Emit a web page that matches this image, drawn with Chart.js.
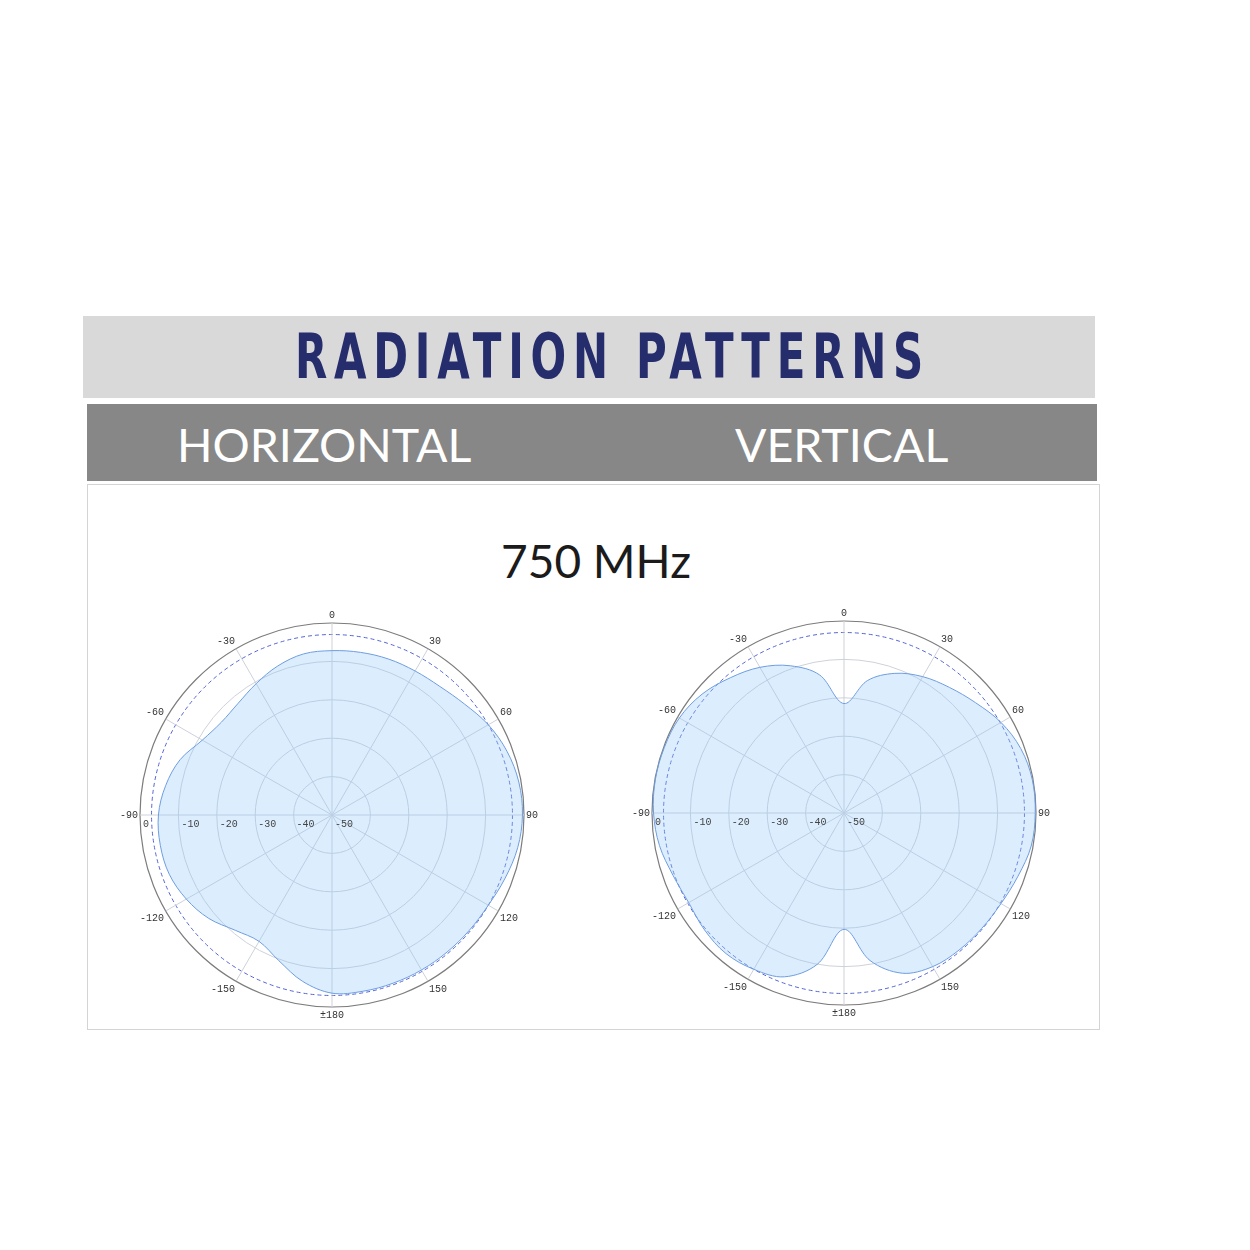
<!DOCTYPE html>
<html>
<head>
<meta charset="utf-8">
<script src="https://cdn.jsdelivr.net/npm/chart.js@4.4.1/dist/chart.umd.min.js"></script>
<style>
  html, body { margin: 0; padding: 0; background: #fff; }
  body { width: 1250px; height: 1250px; position: relative; overflow: hidden; }
  .band1 { position: absolute; left: 83px; top: 316px; width: 1012px; height: 82px; background: #d9d9d9; }
  .title { position: absolute; left: 295px; top: 318px; white-space: nowrap; transform-origin: 0 0;
           font-family: "Liberation Sans Narrow", "DejaVu Sans Condensed", sans-serif; font-weight: bold;
           font-size: 62px; line-height: 78px; letter-spacing: 9px; color: #262d6c; }
  .band2 { position: absolute; left: 87px; top: 404px; width: 1010px; height: 77px; background: #878787; }
  .sub { position: absolute; top: 414px; font-family: Lato, sans-serif; font-size: 46.5px; line-height: 60px; color: #fff; }
  .box { position: absolute; left: 87px; top: 484px; width: 1011px; height: 544px; border: 1px solid #d4d4d4; }
  .freq { position: absolute; left: 0; width: 1192px; top: 531px; text-align: center;
          font-family: Lato, sans-serif; font-size: 46px; line-height: 60px; color: #1b1b1b; }
  .chartbox { position: absolute; width: 424px; height: 424px; }
</style>
</head>
<body>
<div class="band1"></div>
<div class="title" id="title">RADIATION PATTERNS</div>
<div class="band2"></div>
<div class="sub" style="left:177px">HORIZONTAL</div>
<div class="sub" style="left:735px">VERTICAL</div>
<div class="box"></div>
<div class="freq">750 MHz</div>
<div class="chartbox" style="left:117px; top:603px"><canvas id="hChart"></canvas></div>
<div class="chartbox" style="left:629px; top:601px"><canvas id="vChart"></canvas></div>
<script>
// angles in degrees, clockwise from top
const angles = [0, 10, 20, 30, 40, 50, 60, 70, 80, 90, 100, 110, 120, 130, 140, 150, 160, 170, 180,
  -170, -160, -150, -140, -130, -120, -110, -100, -90, -80, -70, -60, -50, -40, -30, -20, -10];

// gain in dB, same order as angles
const horizontalGain = [-7.2, -7.0, -6.8, -6.7, -6.3, -5.0, -3.0, -1.5, -0.6, -0.4, -0.9, -2.0, -3.0, -3.3, -3.4, -3.4, -3.4, -3.4, -3.6,
  -6.0, -9.6, -12.0, -10.8, -8.1, -6.2, -4.9, -4.6, -4.8, -6.0, -7.9, -11.0, -12.4, -12.0, -10.5, -8.7, -7.4];
const verticalGain = [-21.5, -15.0, -11.3, -9.0, -7.3, -5.3, -2.8, -1.0, -0.2, -0.2, -0.5, -1.8, -2.8, -3.2, -3.4, -3.8, -5.6, -11.0, -19.7,
  -10.0, -4.6, -3.0, -2.2, -2.6, -3.3, -2.6, -1.2, -0.4, -0.1, -0.2, -0.5, -1.8, -4.0, -6.2, -9.2, -13.5];

const ringValues = [-50, -40, -30, -20, -10, -3, 0];
const radialTickLabels = ['0', '-10', '-20', '-30', '-40', '-50'];
const radialTickValues = [0, -10, -20, -30, -40, -50];
const refLevel = -3;

// title fit to width
const t = document.getElementById('title');
t.style.transform = 'scaleX(' + (635 / t.getBoundingClientRect().width) + ')';

const tickFont = '10px "Liberation Mono", monospace';

// radial tick labels along the -90 axis
const radialLabels = {
  id: 'radialLabels',
  afterDraw(chart) {
    const s = chart.scales.r;
    const ctx = chart.ctx;
    const idx = angles.indexOf(-90);
    ctx.save();
    ctx.font = tickFont;
    ctx.fillStyle = '#444';
    ctx.textAlign = 'left';
    ctx.textBaseline = 'middle';
    radialTickValues.forEach((v, i) => {
      const p = s.getPointPositionForValue(idx, v);
      ctx.fillText(radialTickLabels[i], p.x + 3, p.y + 9);
    });
    ctx.restore();
  }
};

const makeChart = (id, gain) => {
  new Chart(document.getElementById(id), {
    type: 'radar',
    data: {
      labels: angles,
      datasets: [{
        data: gain,
        backgroundColor: 'rgba(150, 200, 250, 0.33)',
        borderColor: '#6d9de0',
        borderWidth: 1,
        pointRadius: 0,
        fill: 'start',
        tension: 0.35,
      }],
    },
    options: {
      responsive: true,
      maintainAspectRatio: false,
      animation: false,
      plugins: { legend: { display: false }, tooltip: { enabled: false } },
      scales: {
        r: {
          min: -50,
          max: 0,
          afterBuildTicks: (scale) => { scale.ticks = ringValues.map(v => ({ value: v })); },
          ticks: { display: false },
          grid: {
            circular: true,
            color: (c) => c.tick.value === 0 ? '#7c7c7c' : (c.tick.value === refLevel ? '#5465d4' : '#cdd1d9'),
            lineWidth: (c) => c.tick.value === 0 ? 1.2 : 1,
          },
          border: { dash: (c) => c.tick && c.tick.value === refLevel ? [4, 3] : [] },
          angleLines: {
            color: (c) => angles[c.index] % 30 === 0 ? '#cdd1d9' : 'rgba(0,0,0,0)',
            lineWidth: 1,
          },
          pointLabels: {
            padding: 2,
            color: '#333',
            font: { family: '"Liberation Mono", monospace', size: 10 },
            callback: (l) => l % 30 !== 0 ? '' : (l === 180 ? '±180' : String(l)),
          },
        },
      },
    },
    plugins: [radialLabels],
  });
};

makeChart('hChart', horizontalGain);
makeChart('vChart', verticalGain);
</script>
</body>
</html>
